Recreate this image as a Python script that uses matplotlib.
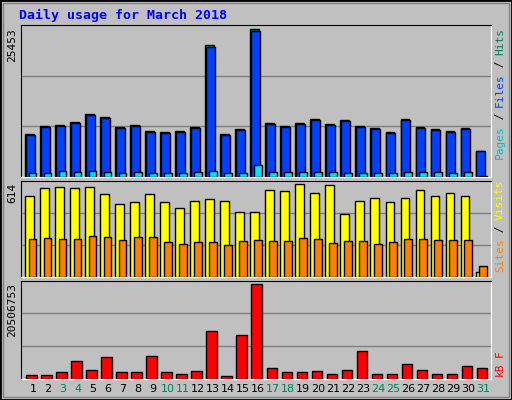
import matplotlib
matplotlib.use("Agg")
import matplotlib.pyplot as plt
from matplotlib.patches import Rectangle
import numpy as np

days = list(range(1, 32))
weekend = [3, 4, 10, 11, 17, 18, 24, 25, 31]

hits = [7310, 8700, 8870, 9390, 10770, 10250, 8520, 8870, 7830, 7660, 7830, 8520,
        22690, 7310, 8180, 25453, 9210, 8700, 9210, 9900, 9040, 9730, 8700, 8350,
        7660, 9900, 8520, 8180, 7830, 8350, 4550]
files = [h * 0.985 for h in hits]
files[14] = 8010
pages = [750, 750, 1090, 920, 1090, 920, 750, 920, 750, 750, 750, 920, 1090, 750,
         750, 2130, 920, 920, 920, 920, 920, 750, 750, 750, 750, 920, 920, 920, 750,
         920, 170]
visits = [540, 587, 594, 587, 600, 547, 487, 494, 547, 500, 460, 507, 514, 507,
          434, 434, 574, 567, 614, 554, 607, 420, 507, 527, 500, 527, 574, 534,
          554, 534, 33]
sites = [254, 260, 254, 254, 274, 267, 247, 267, 267, 234, 220, 234, 234, 214,
         240, 247, 240, 240, 260, 254, 227, 240, 240, 220, 234, 254, 254, 247,
         247, 247, 74]
kbytes = [901000, 901000, 1352000, 3831000, 1803000, 4733000, 1352000, 1352000,
          4958000, 1352000, 1127000, 1577000, 10365000, 676000, 9464000, 20506753,
          2254000, 1352000, 1352000, 1577000, 1127000, 1803000, 6086000, 1127000,
          1127000, 3155000, 1803000, 1127000, 1127000, 2705000, 2254000]

W, H = 512, 400
fig = plt.figure(figsize=(W / 100, H / 100), dpi=100, facecolor="#c0c0c0")
mono = "DejaVu Sans Mono"

# outer bevel frame
fig.patches.append(Rectangle((0, 0), 1, 1, transform=fig.transFigure, fill=False,
                             edgecolor="black", linewidth=2))
fig.patches.append(Rectangle((3 / W, 3 / H), 1 - 6 / W, 1 - 6 / H, transform=fig.transFigure,
                             fill=False, edgecolor="#808080", linewidth=1))

def panel(top, bottom):
    ax = fig.add_axes([20.7 / W, 1 - bottom / H, 470 / W, (bottom - top) / H])
    ax.set_facecolor("#c0c0c0")
    ax.set_xlim(0.18, 31.5)
    ax.set_xticks([])
    ax.set_yticks([])
    for s in ax.spines.values():
        s.set_color("black")
    ax.spines["right"].set_color("white")
    ax.spines["bottom"].set_color("white")
    return ax

d = np.array(days)
bk = dict(edgecolor="black", linewidth=1, align="edge")

ax1 = panel(25, 177)
top1 = 25453 * 152 / 148
ax1.set_ylim(0, top1)
for g in (top1 / 3, 2 * top1 / 3):
    ax1.axhline(g, color="#808080", lw=1, zorder=0)
ax1.bar(d - 0.51, hits, width=0.55, color="#00805c", **bk)
ax1.bar(d - 0.45, files, width=0.55, color="#0040ff", **bk)
ax1.bar(d - 0.27, pages, width=0.5, color="#00e0ff", **bk)
fig.text(12 / W, 1 - 28 / H, "25453", rotation=90, ha="center", va="top", family=mono, fontsize=8)

ax2 = panel(180.7, 277)
top2 = 614 * 287 / 276
ax2.set_ylim(0, top2)
for g in (top2 / 3, 2 * top2 / 3):
    ax2.axhline(g, color="#808080", lw=1, zorder=0)
ax2.bar(d - 0.51, visits, width=0.55, color="#ffff00", **bk)
ax2.bar(d - 0.27, sites, width=0.5, color="#ff8000", **bk)
fig.text(12 / W, 1 - 183 / H, "614", rotation=90, ha="center", va="top", family=mono, fontsize=8)

ax3 = panel(280.7, 378.7)
top3 = 20506753 * 284 / 273
ax3.set_ylim(0, top3)
for g in (top3 / 3, 2 * top3 / 3):
    ax3.axhline(g, color="#808080", lw=1, zorder=0)
ax3.bar(d - 0.44, kbytes, width=0.68, color="#ff0000", **bk)
fig.text(12 / W, 1 - 283 / H, "20506753", rotation=90, ha="center", va="top", family=mono, fontsize=8)

for i in days:
    fig.text((33 + 15 * (i - 1)) / W, 1 - 389 / H, str(i), ha="center", va="center",
             fontsize=8, color="#00805c" if i in weekend else "black")

fig.text(19 / W, 1 - 15 / H, "Daily usage for March 2018", color="#0000ff",
         family=mono, fontweight="bold", fontsize=9.5, va="center", ha="left")

def side_label(y_top, parts):
    y = y_top
    for txt, col in parts:
        fig.text(500 / W, 1 - y / H, txt, rotation=90, ha="center", va="top",
                 color=col, family=mono, fontsize=8)
        y += len(txt) * 6.5

side_label(28, [("Hits", "#00805c"), (" / ", "black"), ("Files", "#0040ff"),
                (" / ", "black"), ("Pages", "#00c0c0")])
side_label(180, [("Visits", "#ffff00"), (" / ", "black"), ("Sites", "#ff8000")])
side_label(350, [("F", "#ff0000"), (" ", "black"), ("kB", "#ff0000")])

fig.savefig("out.png", dpi=100, facecolor=fig.get_facecolor())
